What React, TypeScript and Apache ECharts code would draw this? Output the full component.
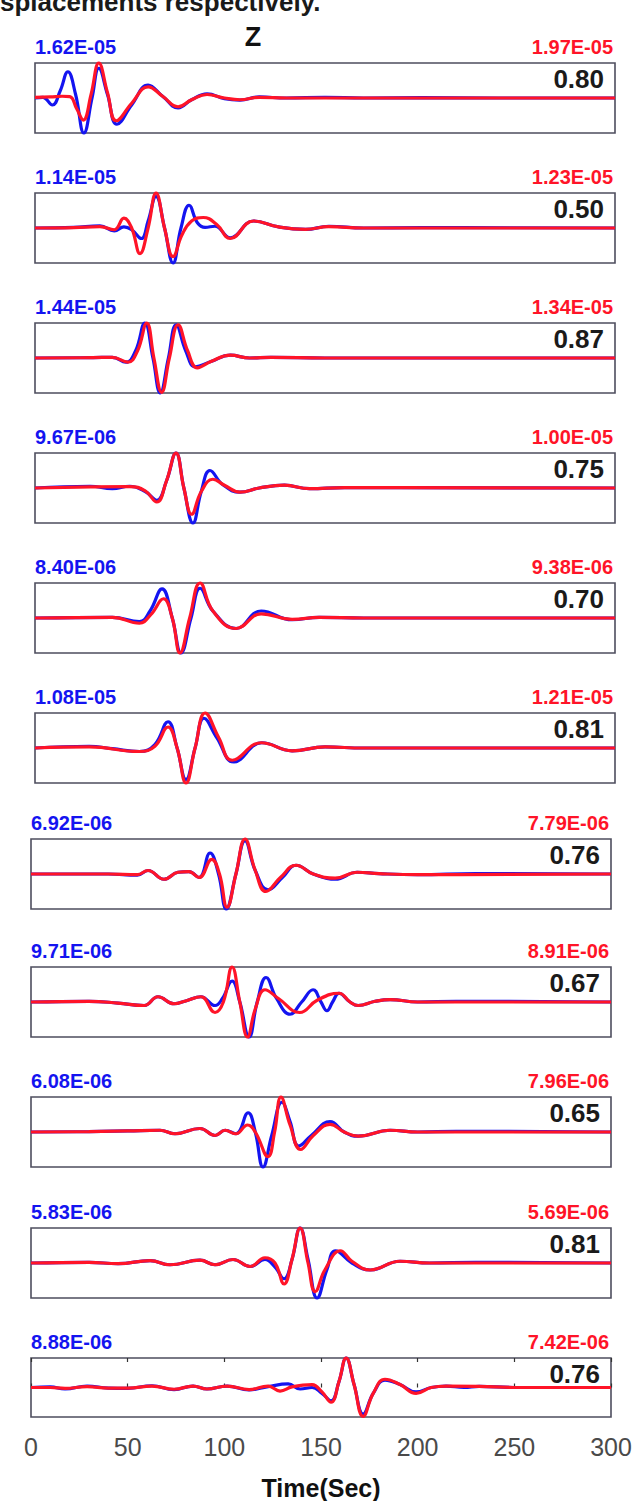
import React, { useEffect, useRef } from "react";
import * as echarts from "echarts";

// ---- data (time in seconds, normalized amplitude) ----
const xTicks = [0, 50, 100, 150, 200, 250, 300];
const blueMax = ["1.62E-05", "1.14E-05", "1.44E-05", "9.67E-06", "8.40E-06", "1.08E-05", "6.92E-06", "9.71E-06", "6.08E-06", "5.83E-06", "8.88E-06"];
const redMax = ["1.97E-05", "1.23E-05", "1.34E-05", "1.00E-05", "9.38E-06", "1.21E-05", "7.79E-06", "8.91E-06", "7.96E-06", "5.69E-06", "7.42E-06"];
const corr = ["0.80", "0.50", "0.87", "0.75", "0.70", "0.81", "0.76", "0.67", "0.65", "0.81", "0.76"];

const b1 = [[0,0],[4,0.02],[9,-0.2],[13,0.2],[17,0.75],[21,0.1],[25.3,-1.0],[29.5,0.0],[33,0.85],[37.5,0.1],[42.4,-0.75],[50,-0.2],[58.5,0.37],[66,0.05],[74,-0.28],[81,-0.05],[89,0.12],[98,-0.02],[106,-0.06],[116,0.03],[130,0.0],[150,0.02],[170,0],[200,0.01],[240,0],[300,0]];
const r1 = [[0,0.02],[8,0.03],[14,0.05],[18,0.04],[21.5,-0.3],[25,-0.63],[29,0.1],[33,1.0],[37.5,0.15],[42,-0.65],[50,-0.15],[58.5,0.32],[66,0.05],[74,-0.25],[81,-0.05],[89,0.1],[98,0.0],[106,-0.05],[116,0.02],[130,0],[300,0]];
const b2 = [[0,0],[20,0.02],[33.6,0.06],[41,-0.08],[46,0.03],[50,-0.05],[55,-0.3],[58.5,0.2],[62.6,0.9],[67,0.0],[71.4,-1.0],[75.5,0.0],[79.7,0.65],[84,0.15],[88,0.02],[93,0.05],[101,-0.28],[113,0.2],[126,0.03],[140,-0.04],[152,0.05],[170,0.0],[200,0.01],[300,0]];
const r2 = [[0,0],[20,0.01],[33.6,0.04],[41,-0.05],[46,0.28],[50,0.0],[54.3,-0.73],[58.5,0.0],[62.6,1.0],[67,0.0],[71.4,-0.82],[76,-0.2],[81,0.2],[87,0.3],[94,0.1],[101,-0.3],[113,0.2],[126,0.03],[140,-0.04],[152,0.04],[170,0],[300,0]];
const b3 = [[0,0],[30,0.01],[40,0.02],[47,-0.12],[52,0.2],[56.8,1.0],[61,0.0],[64.8,-1.0],[69,0.0],[73,0.95],[78,0.2],[83,-0.25],[91,-0.1],[101,0.08],[111,0.0],[122,0.02],[150,0],[300,0]];
const r3 = [[0,0],[30,0.01],[40,0.02],[48,-0.12],[53,0.2],[57.8,1.0],[61.5,0.0],[65.5,-0.98],[69.5,0.0],[74,0.95],[79,0.2],[84,-0.28],[91,-0.1],[101,0.08],[111,0.0],[122,0.02],[150,0],[300,0]];
const b4 = [[0,0],[28.5,0.05],[40,-0.02],[49,0.05],[57,-0.1],[63,-0.35],[68,0.2],[72.9,1.0],[77,0.0],[81.7,-1.0],[86,-0.1],[90.5,0.5],[97,0.1],[106,-0.12],[116,0.0],[129,0.08],[142,-0.02],[160,0.01],[300,0]];
const r4 = [[0,0],[28.5,0.03],[49,0.04],[57,-0.08],[63,-0.4],[68,0.2],[72.9,1.0],[77,0.0],[81,-0.75],[86,-0.1],[92,0.25],[98,0.08],[106,-0.12],[116,0.0],[129,0.08],[142,-0.02],[160,0.01],[300,0]];
const b5 = [[0,0],[40,0.02],[54,-0.1],[59.5,0.2],[65.7,0.83],[71,0.0],[75.5,-1.0],[80.7,0.0],[85.4,0.85],[92,0.2],[104,-0.3],[117,0.2],[133,-0.05],[147,0.02],[170,0],[300,0]];
const r5 = [[0,0],[40,0.02],[54,-0.15],[60,0.1],[66.5,0.55],[71,0.0],[75,-1.0],[80,0.0],[85.4,1.0],[92,0.2],[104,-0.3],[117,0.12],[133,-0.04],[147,0.02],[170,0],[300,0]];
const b6 = [[0,0],[28,0.05],[40,-0.02],[54,-0.1],[62,0.1],[68.8,0.75],[73.5,0.0],[78.1,-0.9],[82.8,0.0],[87.4,0.85],[94,0.3],[102.9,-0.4],[117.4,0.15],[133,-0.08],[150,0.03],[170,0],[300,0]];
const r6 = [[0,0],[28,0.03],[54,-0.1],[62,0.05],[68.8,0.6],[73.5,0.0],[78.1,-1.0],[82.8,0.0],[88,1.0],[95,0.3],[102,-0.35],[117,0.15],[133,-0.08],[150,0.03],[170,0],[300,0]];
const b7 = [[0,0],[40,0.0],[55,-0.03],[60.5,0.1],[68.8,-0.15],[76,0.05],[81.7,0.07],[86.9,-0.1],[92.6,0.6],[97,0.0],[101,-1.0],[106,0.0],[110.7,0.95],[116,0.1],[122.6,-0.45],[130,-0.1],[137.1,0.25],[146,0.0],[157.3,-0.15],[168.7,0.05],[180,0.01],[200,-0.02],[230,0.01],[300,0]];
const r7 = [[0,0],[40,0.0],[55,-0.02],[60.5,0.1],[68.8,-0.15],[76,0.05],[81.7,0.07],[86.9,-0.1],[93.5,0.42],[97.5,0.0],[101.4,-0.95],[106,0.0],[110.7,1.0],[116,0.1],[121.5,-0.5],[129,-0.1],[137.1,0.25],[146,0.0],[157.3,-0.12],[168.7,0.05],[180,0.01],[200,-0.02],[300,0]];
const b8 = [[0,0],[30,0.02],[45,-0.03],[58.5,-0.1],[65.7,0.15],[74,-0.05],[80,0.03],[87.9,0.15],[95.2,-0.1],[99,0.1],[104,0.6],[108,0.0],[112.8,-1.0],[117,0.0],[121.6,0.7],[127,0.1],[134,-0.35],[140,0.0],[145.9,0.35],[150,0.0],[153.1,-0.25],[156,0.0],[159.3,0.25],[165,0.0],[169.2,-0.1],[178,0.02],[185.7,0.07],[200,0.0],[220,0.02],[300,0]];
const r8 = [[0,0],[30,0.02],[45,-0.03],[58.5,-0.1],[65.7,0.15],[74,-0.05],[80,0.03],[87.9,0.15],[95.2,-0.3],[99.5,0.0],[104,1.0],[108,0.0],[112,-1.0],[116,-0.2],[121,0.35],[128,0.1],[139,-0.3],[148,0.05],[159.3,0.25],[165,0.0],[169.2,-0.1],[178,0.02],[185.7,0.07],[200,0],[300,0]];
const b9 = [[0,0],[30,0.01],[50,0.03],[66.7,0.05],[74.5,-0.05],[87.4,0.1],[95.2,-0.1],[100.4,0.05],[106,-0.05],[112.3,0.55],[116,0.0],[120,-1.0],[124.5,-0.1],[129.8,0.85],[134,0.3],[138.5,-0.4],[145,-0.1],[154.7,0.3],[162,0.0],[169.2,-0.12],[185.7,0.05],[200,0.0],[220,0.02],[300,0]];
const r9 = [[0,0],[30,0.01],[50,0.03],[66.7,0.05],[74.5,-0.05],[87.4,0.1],[95.2,-0.1],[100.4,0.05],[106,-0.05],[112,0.2],[116,0.0],[122.6,-0.7],[126,0.0],[129.3,1.0],[134,0.2],[139.5,-0.5],[146,-0.1],[154.7,0.22],[162,0.0],[169.2,-0.12],[185.7,0.05],[200,0],[300,0]];
const b10 = [[0,0],[30,0.02],[45,-0.02],[61.6,0.07],[71.9,-0.05],[87.4,0.08],[95.2,-0.05],[104.5,0.1],[113.3,-0.1],[121,0.1],[126,-0.1],[130.9,-0.45],[135,0.1],[139.2,1.0],[143.3,0.1],[148,-1.0],[153,-0.2],[157.5,0.35],[166,0.0],[175.4,-0.2],[190.9,0.05],[206,0.0],[230,0.02],[300,0]];
const r10 = [[0,0],[30,0.02],[45,-0.02],[61.6,0.07],[71.9,-0.05],[87.4,0.08],[95.2,-0.05],[104.5,0.1],[113.3,-0.1],[121,0.15],[126.2,0.0],[130.9,-0.6],[135,0.1],[139.2,1.0],[143.3,0.0],[147,-0.82],[152,-0.2],[160,0.35],[166,0.05],[175.4,-0.2],[190.9,0.05],[206,0.0],[300,0]];
const b11 = [[0,0],[10,0.02],[17.6,-0.05],[29,0.05],[40,-0.02],[50,-0.03],[62.6,0.06],[74,-0.07],[83.8,0.05],[91,-0.05],[101.4,0.05],[112.8,-0.08],[122.6,0.03],[133,0.12],[139.2,-0.05],[145.4,0.0],[150.5,-0.2],[155.2,-0.45],[159.3,0.2],[163,1.0],[167.1,0.1],[171.8,-0.9],[177,-0.2],[183.1,0.25],[190.9,0.1],[199.2,-0.15],[207,0.0],[214.7,0.05],[224,0.0],[231.8,0.04],[250,0.0],[300,0]];
const r11 = [[0,0],[10,0.0],[17.6,-0.03],[29,0.03],[40,-0.02],[50,-0.02],[62.6,0.05],[74,-0.06],[83.8,0.05],[91,-0.05],[101.4,0.05],[112.8,-0.07],[122.6,0.05],[128.8,-0.12],[135,0.02],[145.4,0.1],[150.5,-0.15],[155.2,-0.5],[159.3,0.2],[163,1.0],[167.1,0.1],[171.8,-0.98],[177,-0.2],[183.1,0.28],[190.9,0.1],[199.2,-0.2],[207,0.0],[214.7,0.05],[231.8,0.04],[250,0],[300,0]];

const blueTraces = [b1, b2, b3, b4, b5, b6, b7, b8, b9, b10, b11];
const redTraces = [r1, r2, r3, r4, r5, r6, r7, r8, r9, r10, r11];

// ---- layout ----
const W = 636;
const HT = 1501;
const panelTops = [63, 193, 323, 453, 583, 713, 839, 967, 1097, 1228, 1358];
const PH = 70;
const FONT = "'Liberation Sans', Arial, Helvetica, sans-serif";
const BLUE = "#1414f0";
const RED = "#ff1428";

export default function App() {
  const ref = useRef<HTMLDivElement>(null);
  useEffect(() => {
    document.body.style.margin = "0";
    if (!ref.current) return;
    const chart = echarts.init(ref.current, undefined, { renderer: "svg" });
    const n = panelTops.length;
    const grids: any[] = [];
    const xAxes: any[] = [];
    const yAxes: any[] = [];
    const series: any[] = [];
    const graphics: any[] = [];
    for (let i = 0; i < n; i++) {
      const left = i < 6 ? 35 : 31;
      const rightEdge = i < 6 ? 615 : 611;
      const last = i === n - 1;
      grids.push({
        left,
        top: panelTops[i],
        width: rightEdge - left,
        height: PH,
        show: true,
        borderColor: "#4e4e5e",
        borderWidth: 1.6,
        backgroundColor: "transparent",
      });
      xAxes.push({
        type: "value",
        gridIndex: i,
        min: xTicks[0],
        max: xTicks[xTicks.length - 1],
        interval: 50,
        axisLine: { show: false },
        splitLine: { show: false },
        axisTick: { show: last, inside: true, length: 4, lineStyle: { color: "#333", width: 1.2 } },
        axisLabel: {
          show: last,
          margin: 17,
          fontSize: 25,
          color: "#4a4a4a",
          fontFamily: FONT,
        },
        name: last ? "Time(Sec)" : "",
        nameLocation: "middle",
        nameGap: 58,
        nameTextStyle: { fontSize: 25, fontWeight: "bold", color: "#111", fontFamily: FONT },
      });
      yAxes.push({ type: "value", gridIndex: i, min: -1, max: 1, show: false });
      series.push({
        type: "line",
        xAxisIndex: i,
        yAxisIndex: i,
        data: blueTraces[i],
        showSymbol: false,
        smooth: 0.45,
        clip: false,
        lineStyle: { color: BLUE, width: 3.2 },
        z: 2,
      });
      series.push({
        type: "line",
        xAxisIndex: i,
        yAxisIndex: i,
        data: redTraces[i],
        showSymbol: false,
        smooth: 0.45,
        clip: false,
        lineStyle: { color: RED, width: 3.2 },
        z: 3,
      });
      graphics.push({
        type: "text",
        x: left,
        y: panelTops[i] - 16,
        style: { text: blueMax[i], fill: BLUE, font: `bold 20px ${FONT}`, textAlign: "left", textVerticalAlign: "middle" },
      });
      graphics.push({
        type: "text",
        x: rightEdge - 2,
        y: panelTops[i] - 16,
        style: { text: redMax[i], fill: RED, font: `bold 20px ${FONT}`, textAlign: "right", textVerticalAlign: "middle" },
      });
      graphics.push({
        type: "text",
        x: rightEdge - 11,
        y: panelTops[i] + 16,
        style: { text: corr[i], fill: "#1a1a1a", font: `bold 26px ${FONT}`, textAlign: "right", textVerticalAlign: "middle" },
        z: 10,
      });
    }
    // top ticks for last panel
    xAxes.push({
      type: "value",
      gridIndex: n - 1,
      position: "top",
      min: xTicks[0],
      max: xTicks[xTicks.length - 1],
      interval: 50,
      axisLine: { show: false },
      splitLine: { show: false },
      axisTick: { show: true, inside: true, length: 4, lineStyle: { color: "#333", width: 1.2 } },
      axisLabel: { show: false },
    });
    graphics.push({
      type: "text",
      x: 253,
      y: 37,
      style: { text: "Z", fill: "#111", font: `bold 27px ${FONT}`, textAlign: "center", textVerticalAlign: "middle" },
    });
    graphics.push({
      type: "text",
      x: 0,
      y: 2,
      style: { text: "splacements respectively.", fill: "#1a1a1a", font: `bold 26px ${FONT}`, textAlign: "left", textVerticalAlign: "middle" },
    });

    chart.setOption({
      animation: false,
      backgroundColor: "#ffffff",
      grid: grids,
      xAxis: xAxes,
      yAxis: yAxes,
      series,
      graphic: graphics,
    });
    return () => chart.dispose();
  }, []);
  return <div ref={ref} style={{ width: W, height: HT }} />;
}
